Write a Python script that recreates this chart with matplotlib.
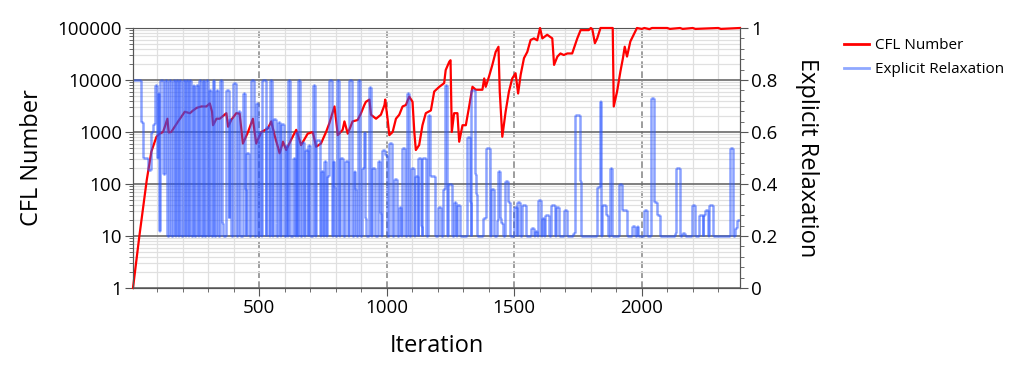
import matplotlib
matplotlib.use("Agg")
import matplotlib.pyplot as plt
from matplotlib.collections import LineCollection
from matplotlib.lines import Line2D
from matplotlib.ticker import MultipleLocator, FuncFormatter, LogLocator

plt.rcParams['font.family'] = ['Open Sans', 'DejaVu Sans']

# CFL number (left, log axis)
cfl_iter = [5, 30, 59, 77, 97, 110, 123, 140, 145, 155, 182, 208, 228, 241, 254, 273, 293,
            306, 315, 319, 332, 345, 371, 378, 390, 410, 423, 436, 456, 475, 488, 508, 534,
            547, 560, 580, 593, 606, 625, 645, 664, 690, 710, 723, 742, 762, 775, 795, 808,
            827, 834, 847, 866, 886, 899, 912, 918, 932, 938, 958, 977, 991, 994, 1003, 1010,
            1023, 1036, 1049, 1062, 1075, 1088, 1101, 1108, 1114, 1127, 1140, 1153, 1173, 1186,
            1206, 1225, 1231, 1245, 1250, 1255, 1264, 1277, 1284, 1297, 1310, 1323, 1336, 1349,
            1375, 1382, 1388, 1401, 1414, 1427, 1438, 1443, 1453, 1466, 1479, 1492, 1505, 1515,
            1525, 1538, 1551, 1564, 1577, 1590, 1601, 1610, 1629, 1649, 1656, 1669, 1681, 1694,
            1708, 1727, 1747, 1760, 1792, 1800, 1806, 1816, 1825, 1838, 1886, 1890, 1903, 1916,
            1926, 1933, 1942, 1955, 1968, 1981, 2000, 2010, 2030, 2040, 2100, 2110, 2150, 2160,
            2200, 2210, 2300, 2310, 2385]
cfl_val = [1, 10, 120, 420, 810, 930, 1000, 1800, 980, 1000, 1600, 2450, 2300, 2600, 2900,
           3100, 3100, 3550, 2450, 1350, 1800, 1800, 2300, 1260, 1700, 2300, 2250, 600, 1000,
           1800, 600, 1000, 1170, 1600, 870, 390, 650, 450, 710, 1100, 560, 930, 1000, 520,
           600, 1000, 1480, 3100, 870, 1100, 1600, 930, 1600, 1700, 2300, 3300, 3800, 4200,
           2150, 1800, 2150, 3300, 4200, 1800, 870, 1000, 1800, 2150, 3100, 3300, 4800, 3800,
           1000, 450, 560, 1350, 2300, 2600, 6000, 7400, 8700, 15500, 22400, 24000, 1000, 2300,
           2300, 650, 1350, 1350, 3100, 7400, 6500, 6500, 10700, 7400, 11700, 19500, 34700,
           43600, 6000, 810, 2450, 6000, 10700, 13500, 5500, 12600, 26300, 34700, 58900, 63100,
           58000, 100000, 63100, 74100, 63100, 19500, 28200, 32400, 30200, 32400, 32400, 63100,
           91000, 91000, 100000, 95000, 51000, 63000, 100000, 100000, 3100, 6000, 14500, 26300,
           43600, 28200, 55000, 74100, 100000, 96000, 100000, 95000, 100000, 100000, 96000,
           100000, 96000, 100000, 96000, 100000, 96000, 100000]

# Explicit relaxation (right axis): iteration where the value changes, and the new level
relax_iter = [5, 36, 45, 62, 75, 83, 93, 99, 103, 108, 112, 124, 129, 138,
              148, 155, 161, 168, 174, 181, 187, 194, 200, 207, 213, 220, 226, 233, 239, 246,
              252, 259, 265, 272, 278, 285, 291, 298, 304, 311, 317, 322, 324,
              329, 339, 345, 355, 358, 371, 380, 382, 391, 397, 410, 417, 426, 436, 445, 447,
              449, 460, 466, 478, 489, 495, 500, 507, 512, 525, 528, 538, 543, 549, 551, 554,
              565, 567, 573, 582, 586, 599, 604, 610, 612, 622, 632, 642, 645, 649,
              651, 661, 667, 677, 680, 690, 693, 700, 710, 719, 723, 740, 744, 750, 753, 762,
              766, 772, 785, 788, 795, 797, 804, 814, 818, 827, 836, 849, 853, 864, 870, 877,
              879, 886, 896, 901, 912, 916, 918, 929, 938, 944, 953, 964, 975, 977, 980, 993,
              1000, 1002,
              1007, 1019, 1030, 1039, 1049, 1056, 1060, 1071, 1079, 1088, 1095, 1105, 1112, 1122,
              1124, 1135, 1137, 1140, 1153, 1163, 1169, 1190, 1199, 1212, 1219, 1229, 1238, 1242,
              1254, 1262, 1271, 1274, 1287, 1313, 1326, 1329,
              1332, 1345, 1351, 1353, 1379, 1388, 1405, 1407, 1420, 1431, 1436, 1444, 1446, 1457,
              1462, 1475, 1483, 1498, 1509, 1512, 1522, 1531, 1544, 1564, 1577, 1582, 1588, 1592,
              1603, 1609, 1616, 1622, 1635, 1642, 1658,
              1662, 1675, 1695, 1708, 1732, 1740, 1756, 1760, 1825, 1836, 1841, 1845, 1858, 1868,
              1877, 1884, 1910, 1923, 1942, 1962, 1972,
              1981, 1984, 2010, 2020, 2036, 2049, 2059, 2070, 2130, 2135, 2148, 2157, 2170, 2196,
              2209, 2226, 2238, 2240, 2248, 2259, 2265, 2278, 2344, 2359, 2366, 2372, 2385]
relax_val = [0.8, 0.64, 0.5, 0.455, 0.6, 0.63, 0.78, 0.5, 0.75, 0.22, 0.8, 0.44, 0.8, 0.2,
             0.8, 0.2, 0.8, 0.2, 0.8, 0.2, 0.8, 0.2, 0.8, 0.2, 0.8, 0.2, 0.8, 0.2, 0.78, 0.2,
             0.78, 0.2, 0.8, 0.2, 0.8, 0.2, 0.8, 0.2, 0.76, 0.2, 0.8, 0.38, 0.2,
             0.76, 0.2, 0.8, 0.25, 0.2, 0.76, 0.27, 0.65, 0.2, 0.79, 0.2, 0.68, 0.2, 0.75, 0.38,
             0.2, 0.52, 0.2, 0.8, 0.2, 0.71, 0.2, 0.6, 0.2, 0.8, 0.2, 0.62, 0.2, 0.8, 0.35, 0.2,
             0.65, 0.25, 0.2, 0.64, 0.2, 0.63, 0.2, 0.55, 0.2, 0.8, 0.2, 0.5, 0.2, 0.6, 0.2,
             0.8, 0.2, 0.56, 0.2, 0.53, 0.2, 0.55, 0.2, 0.78, 0.2, 0.57, 0.2, 0.45, 0.2, 0.49,
             0.2, 0.43, 0.8, 0.2, 0.49, 0.39, 0.2, 0.8, 0.2, 0.5, 0.2, 0.49, 0.2, 0.8, 0.2, 0.45,
             0.38, 0.2, 0.8, 0.2, 0.46, 0.6, 0.27, 0.2, 0.775, 0.2, 0.46, 0.2, 0.49, 0.29, 0.2,
             0.53, 0.51, 0.22, 0.2,
             0.556, 0.2, 0.42, 0.2, 0.31, 0.2, 0.54, 0.2, 0.75, 0.2, 0.46, 0.2, 0.43, 0.2, 0.5,
             0.24, 0.2, 0.5, 0.2, 0.665, 0.43, 0.2, 0.31, 0.2, 0.38, 0.78, 0.2, 0.4, 0.2, 0.33,
             0.2, 0.32, 0.2, 0.58, 0.33, 0.2,
             0.76, 0.44, 0.36, 0.2, 0.27, 0.54, 0.2, 0.38, 0.2, 0.26, 0.45, 0.27, 0.25, 0.2, 0.41,
             0.33, 0.2, 0.31, 0.2, 0.33, 0.2, 0.32, 0.2, 0.23, 0.2, 0.22, 0.2, 0.34, 0.2, 0.27,
             0.2, 0.28, 0.2, 0.32, 0.2,
             0.31, 0.2, 0.3, 0.2, 0.21, 0.665, 0.41, 0.2, 0.39, 0.72, 0.2, 0.32, 0.28, 0.2, 0.46,
             0.2, 0.4, 0.3, 0.2, 0.24, 0.2,
             0.24, 0.2, 0.3, 0.2, 0.73, 0.33, 0.28, 0.2, 0.21, 0.46, 0.2, 0.21, 0.2, 0.32, 0.2,
             0.28, 0.2, 0.28, 0.3, 0.2, 0.32, 0.2, 0.54, 0.2, 0.23, 0.26, 0.26]

RED = '#ff0000'
BLUE = '#2a55ff'

fig = plt.figure(figsize=(10.1, 3.72), dpi=100)
ax = fig.add_axes([133 / 1010, 1 - 288 / 372, 607 / 1010, 260 / 372])
ax2 = ax.twinx()

ax.plot(cfl_iter, cfl_val, color=RED, lw=1.6, zorder=3, clip_on=False)
ax.set_yscale('log')
ax.set_ylim(1, 1e5)
ax.set_xlim(5, 2385)
ax.yaxis.set_major_locator(LogLocator(base=10, numticks=10))
ax.yaxis.set_minor_locator(LogLocator(base=10, subs=range(2, 10), numticks=20))
ax.yaxis.set_major_formatter(FuncFormatter(lambda v, p: f"{v:g}"))
ax.yaxis.set_minor_formatter(FuncFormatter(lambda v, p: ""))
ax.xaxis.set_major_locator(MultipleLocator(500))
ax.xaxis.set_minor_locator(MultipleLocator(100))

ax.set_axisbelow(True)
ax.grid(which='minor', axis='both', color='#e0e0e0', lw=0.9)
ax.grid(which='major', axis='y', color='#6a6a6a', lw=1.2)
ax.grid(which='major', axis='x', color='#8c8c8c', lw=1.2, ls=(0, (4, 2)))

# step path for the relaxation, drawn as separate segments so overlaps darken
pts = []
for i in range(len(relax_iter)):
    if i > 0:
        pts.append((relax_iter[i], relax_val[i - 1]))
    pts.append((relax_iter[i], relax_val[i]))
segs = [[pts[k], pts[k + 1]] for k in range(len(pts) - 1)]
lc = LineCollection(segs, colors=BLUE, alpha=0.55, lw=1.8)
ax2.add_collection(lc)
ax2.set_ylim(0, 1)
ax2.yaxis.set_major_locator(MultipleLocator(0.2))
ax2.yaxis.set_minor_locator(MultipleLocator(0.04))
ax2.yaxis.set_major_formatter(FuncFormatter(lambda v, p: f"{v:g}"))
ax2.spines['top'].set_visible(False)

for a in (ax, ax2):
    for s in a.spines.values():
        s.set_color('#555555')
    a.tick_params(which='major', direction='out', length=6, color='#555555',
                  labelsize=13.5, pad=2)
    a.tick_params(which='minor', direction='out', length=3, color='#555555')

ax.set_xlabel('Iteration', fontsize=17, labelpad=12)
ax.set_ylabel('CFL Number', fontsize=17, labelpad=10)
ax2.set_ylabel('Explicit Relaxation', fontsize=17, rotation=270, labelpad=30)

handles = [Line2D([], [], color=RED, lw=2), Line2D([], [], color='#8fa8ff', lw=2)]
fig.legend(handles, ['CFL Number', 'Explicit Relaxation'], loc='upper left',
           bbox_to_anchor=(0.836, 0.897), frameon=False, fontsize=11,
           handlelength=1.6, handletextpad=0.4, labelspacing=0.6,
           borderpad=0, borderaxespad=0)

fig.savefig('out.png', dpi=100)
